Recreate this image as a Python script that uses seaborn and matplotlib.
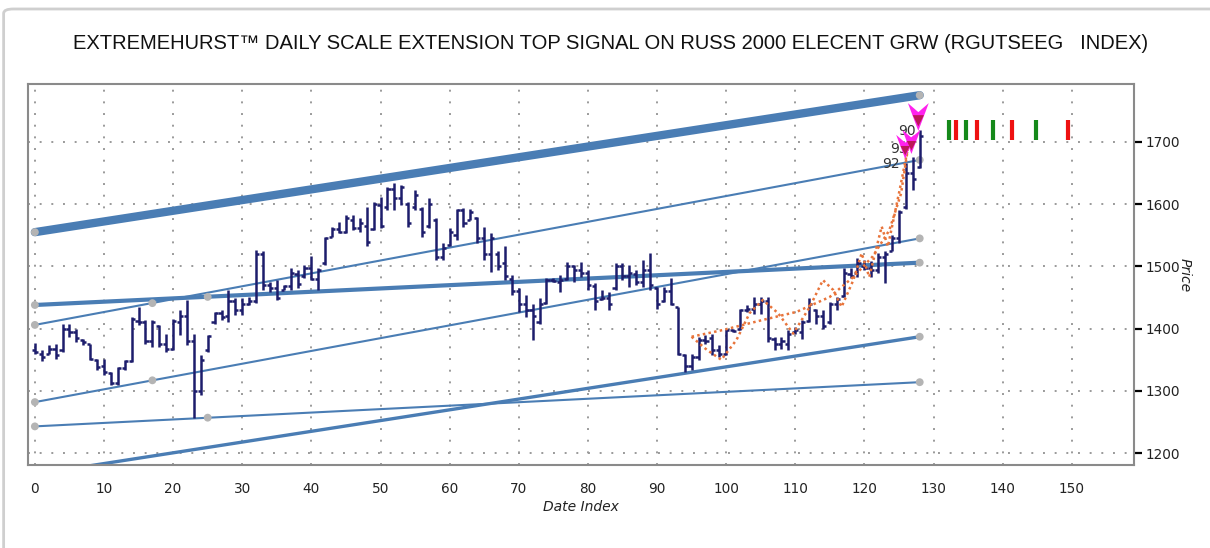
import numpy as np
import pandas as pd
import matplotlib
matplotlib.use("Agg")
import matplotlib.pyplot as plt
import seaborn as sns
from matplotlib.patches import FancyBboxPatch

# ---------------- data ----------------
high = [1377, 1365, 1373, 1376, 1408, 1407, 1400, 1384, 1376, 1352,
        1352, 1331, 1339, 1350, 1419, 1435, 1414, 1414, 1406, 1392,
        1416, 1430, 1446, 1392, 1357, 1390, 1427, 1430, 1462, 1449,
        1449, 1451, 1526, 1524, 1475, 1478, 1470, 1497, 1494, 1502,
        1516, 1497, 1548, 1564, 1572, 1583, 1583, 1577, 1596, 1604,
        1612, 1628, 1634, 1631, 1604, 1623, 1596, 1610, 1577, 1537,
        1561, 1593, 1594, 1593, 1580, 1564, 1553, 1524, 1532, 1486,
        1465, 1454, 1440, 1449, 1481, 1481, 1486, 1507, 1502, 1507,
        1494, 1473, 1462, 1459, 1505, 1505, 1502, 1494, 1510, 1521,
        1467, 1467, 1481, 1435, 1360, 1360, 1387, 1390, 1392, 1374,
        1400, 1400, 1432, 1438, 1451, 1451, 1451, 1387, 1387, 1398,
        1403, 1414, 1449, 1432, 1430, 1443, 1451, 1497, 1497, 1513,
        1510, 1508, 1521, 1524, 1550, 1591, 1666, 1676, 1719]
low = [1359, 1348, 1359, 1352, 1363, 1387, 1379, 1373, 1349, 1333,
       1325, 1309, 1309, 1333, 1347, 1406, 1376, 1371, 1371, 1363,
       1366, 1390, 1374, 1256, 1293, 1363, 1408, 1414, 1411, 1422,
       1422, 1438, 1441, 1462, 1459, 1446, 1462, 1462, 1465, 1481,
       1478, 1462, 1502, 1548, 1553, 1553, 1558, 1556, 1532, 1558,
       1561, 1591, 1591, 1599, 1564, 1591, 1548, 1561, 1510, 1510,
       1532, 1542, 1564, 1575, 1537, 1510, 1491, 1494, 1478, 1454,
       1427, 1419, 1382, 1408, 1440, 1475, 1459, 1478, 1475, 1483,
       1462, 1430, 1446, 1430, 1462, 1478, 1467, 1470, 1467, 1462,
       1432, 1443, 1438, 1357, 1331, 1333, 1349, 1376, 1357, 1355,
       1357, 1395, 1398, 1427, 1424, 1424, 1379, 1366, 1368, 1366,
       1392, 1384, 1411, 1408, 1400, 1408, 1430, 1451, 1481, 1483,
       1494, 1483, 1489, 1473, 1524, 1537, 1593, 1623, 1658]
open_ = [1365, 1360, 1360, 1368, 1365, 1400, 1395, 1382, 1375, 1350,
         1340, 1328, 1312, 1336, 1348, 1412, 1410, 1380, 1405, 1375,
         1368, 1410, 1420, 1380, 1300, 1365, 1410, 1425, 1420, 1445,
         1430, 1440, 1445, 1520, 1470, 1465, 1462, 1468, 1488, 1485,
         1498, 1480, 1505, 1548, 1560, 1555, 1575, 1562, 1565, 1560,
         1598, 1595, 1625, 1610, 1600, 1595, 1592, 1565, 1575, 1515,
         1535, 1550, 1590, 1575, 1578, 1545, 1520, 1520, 1505, 1480,
         1460, 1440, 1430, 1410, 1442, 1478, 1475, 1480, 1500, 1495,
         1490, 1468, 1448, 1450, 1465, 1500, 1485, 1488, 1475, 1495,
         1465, 1445, 1460, 1435, 1358, 1340, 1355, 1382, 1385, 1365,
         1360, 1398, 1400, 1430, 1432, 1440, 1445, 1383, 1375, 1375,
         1395, 1395, 1412, 1430, 1420, 1410, 1440, 1452, 1488, 1490,
         1500, 1498, 1495, 1515, 1525, 1545, 1595, 1650, 1660]
close = [1362, 1355, 1368, 1358, 1400, 1395, 1385, 1378, 1352, 1338,
         1330, 1312, 1336, 1348, 1415, 1410, 1380, 1410, 1375, 1368,
         1412, 1420, 1380, 1300, 1350, 1388, 1425, 1418, 1445, 1430,
         1440, 1445, 1520, 1470, 1465, 1450, 1468, 1490, 1472, 1498,
         1480, 1495, 1545, 1560, 1555, 1578, 1562, 1570, 1540, 1600,
         1565, 1625, 1610, 1628, 1570, 1615, 1555, 1600, 1515, 1530,
         1555, 1590, 1570, 1588, 1545, 1520, 1545, 1500, 1485, 1460,
         1440, 1430, 1420, 1440, 1478, 1477, 1478, 1500, 1495, 1490,
         1470, 1445, 1450, 1440, 1500, 1485, 1490, 1475, 1495, 1470,
         1440, 1460, 1440, 1360, 1340, 1355, 1382, 1380, 1365, 1360,
         1398, 1397, 1430, 1432, 1440, 1445, 1385, 1375, 1380, 1392,
         1398, 1410, 1440, 1420, 1405, 1440, 1448, 1490, 1485, 1505,
         1498, 1495, 1515, 1520, 1545, 1588, 1650, 1640, 1710]
bar_x = np.arange(len(high))

# trend / channel lines
line_x = [0, 128]
line_thick_y = [1555, 1775]
line_mid_y = [1438, 1506]
line_up1_y = [1406, 1671]
line_up2_y = [1282, 1545]
line_low_y = [1166, 1387]
line_flat_y = [1243, 1314]

pivot_x = [0, 0, 0, 0, 0, 17, 17, 25, 25,
           128, 128, 128, 128, 128, 128]
pivot_y = [1555, 1438, 1406, 1282, 1243, 1441, 1317, 1451, 1257,
           1775, 1506, 1671, 1545, 1387, 1314]

# orange dotted model curves
wave_x = [95.0, 97.2, 99.3, 101.5, 103.4, 105.3, 107.5, 109.7, 112.1, 114.0,
          115.5, 116.7, 118.4, 119.6, 120.7, 122.5, 123.4, 125.1, 126.3]
wave_y = [1387, 1366, 1350, 1382, 1425, 1446, 1425, 1392, 1435, 1478,
          1462, 1435, 1478, 1521, 1483, 1564, 1532, 1623, 1690]
trend_x = [95.0, 99.6, 105.3, 110.2, 115.0, 118.4, 121.2, 123.6, 125.3, 126.3]
trend_y = [1387, 1398, 1414, 1427, 1451, 1483, 1516, 1558, 1617, 1690]

# top-signal markers
signal_x = [125.9, 126.8, 127.8]
signal_y = [1692, 1700, 1740]
label_text = ["90", "93", "92"]
label_x = [126.1, 125.0, 123.8]
label_y = [1718, 1688, 1665]

# future cycle ticks
green_x = [132.2, 134.7, 138.6, 144.8]
red_x = [133.2, 136.3, 141.3, 149.4]
tick_level = 1719

x_ticks = list(range(0, 151, 10))
y_ticks = [1200, 1300, 1400, 1500, 1600, 1700]

title = "EXTREMEHURST\u2122 DAILY SCALE EXTENSION TOP SIGNAL ON RUSS 2000 ELECENT GRW (RGUTSEEG   INDEX)"

# ---------------- style ----------------
sns.set_theme(style="white")
plt.rcParams["font.family"] = ["DejaVu Sans"]

fig = plt.figure(figsize=(12.1, 5.48), dpi=100)
fig.patch.set_facecolor("white")
ax = fig.add_axes([0.0231, 0.1515, 0.9141, 0.6952])

border = FancyBboxPatch((0.003, -0.2), 1.5, 1.1836,
                        boxstyle="round,pad=0,rounding_size=0.008",
                        transform=fig.transFigure, facecolor="none",
                        edgecolor="#cfcfcf", linewidth=2, zorder=0)
fig.add_artist(border)

ax.grid(True, color="#9a9a9a", linestyle=(0, (1, 5)), linewidth=1.4)
ax.set_axisbelow(True)

blue = "#4a7db4"
for ys, lw in [(line_thick_y, 6.0), (line_mid_y, 3.0), (line_up1_y, 1.5),
               (line_up2_y, 1.5), (line_low_y, 2.4), (line_flat_y, 1.5)]:
    sns.lineplot(x=line_x, y=ys, ax=ax, color=blue, linewidth=lw, zorder=2)

sns.scatterplot(x=pivot_x, y=pivot_y, ax=ax, color="#b4b4b4", s=32,
                edgecolor="none", zorder=3)

navy = "#1d1d6c"
ax.vlines(bar_x, low, high, color=navy, linewidth=1.8, zorder=4)
ax.hlines(open_, bar_x - 0.45, bar_x, color=navy, linewidth=1.8, zorder=4)
ax.hlines(close, bar_x, bar_x + 0.45, color=navy, linewidth=1.8, zorder=4)

orange = "#e8743b"
sns.lineplot(x=wave_x, y=wave_y, ax=ax, color=orange, linewidth=1.8,
             linestyle=(0, (1, 1.3)), zorder=5)
sns.lineplot(x=trend_x, y=trend_y, ax=ax, color=orange, linewidth=1.8,
             linestyle=(0, (1, 1.3)), zorder=5)

for t, lx, ly in zip(label_text, label_x, label_y):
    ax.text(lx, ly, t, ha="center", va="center", fontsize=10,
            color="#333333", zorder=6)

chevron = [(-0.75, 1.0), (0.0, -1.0), (0.75, 1.0), (0.0, 0.35), (-0.75, 1.0)]
sns.scatterplot(x=signal_x, y=signal_y, ax=ax, marker=chevron, s=[300, 300, 400],
                color="#ff22ee", edgecolor="none", zorder=7, legend=False)
sns.scatterplot(x=signal_x, y=[v - 6 for v in signal_y], ax=ax, marker="v",
                s=[45, 45, 65], color="#b0163c", edgecolor="none", zorder=8,
                alpha=0.85, legend=False)

sns.scatterplot(x=green_x, y=[tick_level] * len(green_x), ax=ax, marker="|",
                s=200, color="#15891a", linewidth=3, zorder=6)
sns.scatterplot(x=red_x, y=[tick_level] * len(red_x), ax=ax, marker="|",
                s=200, color="#ee1111", linewidth=3, zorder=6)

ax.set_xlim(-1, 159)
ax.set_ylim(1181, 1793)
ax.set_xticks(x_ticks)
ax.set_yticks(y_ticks)
ax.yaxis.tick_right()
ax.tick_params(axis="y", right=True, left=False, direction="out", length=6,
               width=1.6, color="black", labelsize=9.8, pad=2,
               labelcolor="#222222")
ax.tick_params(axis="x", bottom=True, length=0, labelsize=9.8, pad=12,
               labelcolor="#222222")
ax.set_xlabel("")
ax.set_ylabel("")
for s in ax.spines.values():
    s.set_color("#8a8a8a")
    s.set_linewidth(1.5)

fig.text(0.505, 0.9215, title, ha="center", va="center", fontsize=14.5,
         family=["Liberation Sans", "DejaVu Sans"], color="#111111")
fig.text(0.480, 0.0748, "Date Index", ha="center", va="center",
         fontsize=10, fontstyle="italic", color="#222222")
fig.text(0.979, 0.498, "Price", ha="center", va="center", rotation=270,
         fontsize=10, fontstyle="italic", color="#222222")

fig.savefig("out.png", dpi=100)
